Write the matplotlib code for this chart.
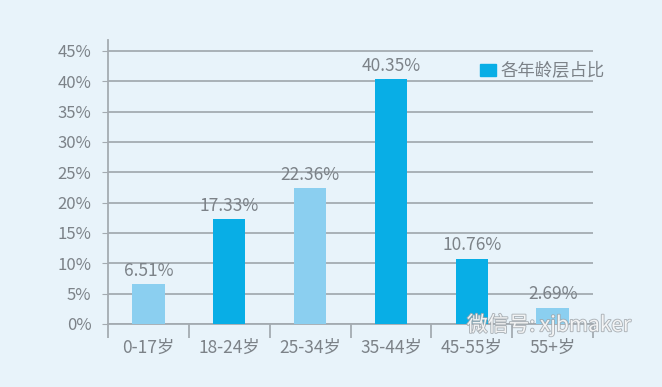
import matplotlib
matplotlib.use("Agg")
import matplotlib.pyplot as plt
import matplotlib.patheffects as pe
import numpy as np

plt.rcParams['font.family'] = ['Noto Sans CJK SC', 'DejaVu Sans']

categories = ["0-17岁", "18-24岁", "25-34岁", "35-44岁", "45-55岁", "55+岁"]
values = [6.51, 17.33, 22.36, 40.35, 10.76, 2.69]
labels = ["6.51%", "17.33%", "22.36%", "40.35%", "10.76%", "2.69%"]
yticks = [0, 5, 10, 15, 20, 25, 30, 35, 40, 45]
legend_label = "各年龄层占比"
watermark = "微信号: xjbmaker"

bg = "#e8f3fa"
light = "#8bcff0"
dark = "#08aee6"
txt = "#7c8288"
grid = "#a4abb1"

fig = plt.figure(figsize=(6.62, 3.87), dpi=100, facecolor=bg)
ax = fig.add_axes([108/662, 1-324/387, (593-108)/662, (324-40)/387], facecolor=bg)

x = np.arange(len(categories))
colors = [light, dark, light, dark, dark, light]
bars = ax.bar(x, values, width=0.4, color=colors, zorder=3)
handle = plt.Rectangle((0, 0), 1, 1, color=dark)

for xi, v, lab in zip(x, values, labels):
    ax.text(xi, v + 0.7, lab, ha='center', va='bottom', fontsize=12.5, color=txt)

ax.set_xlim(-0.5, len(categories) - 0.5)
ax.set_ylim(0, 46.8)
ax.set_yticks(yticks)
ax.set_yticklabels([f"{t}%" for t in yticks], fontsize=12, color=txt)
ax.yaxis.grid(True, color=grid, linewidth=1.3, zorder=0)
ax.tick_params(axis='y', length=4, color=grid, pad=8)

ax.set_xticks(x)
ax.set_xticklabels(categories, fontsize=12.5, color=txt)
ax.set_xticks(np.arange(-0.5, len(categories)), minor=True)
ax.tick_params(axis='x', which='major', length=0, pad=11)
ax.tick_params(axis='x', which='minor', length=10, width=1.3, color=grid, direction='out')

for s in ['top', 'right']:
    ax.spines[s].set_visible(False)
ax.spines['left'].set_color(grid)
ax.spines['left'].set_linewidth(1.3)
ax.spines['bottom'].set_color(grid)
ax.spines['bottom'].set_linewidth(1.3)

leg = ax.legend([handle], [legend_label], loc='upper right', bbox_to_anchor=(1.057, 0.978),
                frameon=False, fontsize=12.5, handlelength=0.9, handleheight=0.7,
                handletextpad=0.3, labelcolor=txt)

fig.text(549/662, 1-325/387, watermark, ha='center', va='center', fontsize=15,
         color='white', alpha=0.85,
         path_effects=[pe.withStroke(linewidth=1.3, foreground='#a0a6ab')])

fig.savefig("out.png", dpi=100, facecolor=bg)
